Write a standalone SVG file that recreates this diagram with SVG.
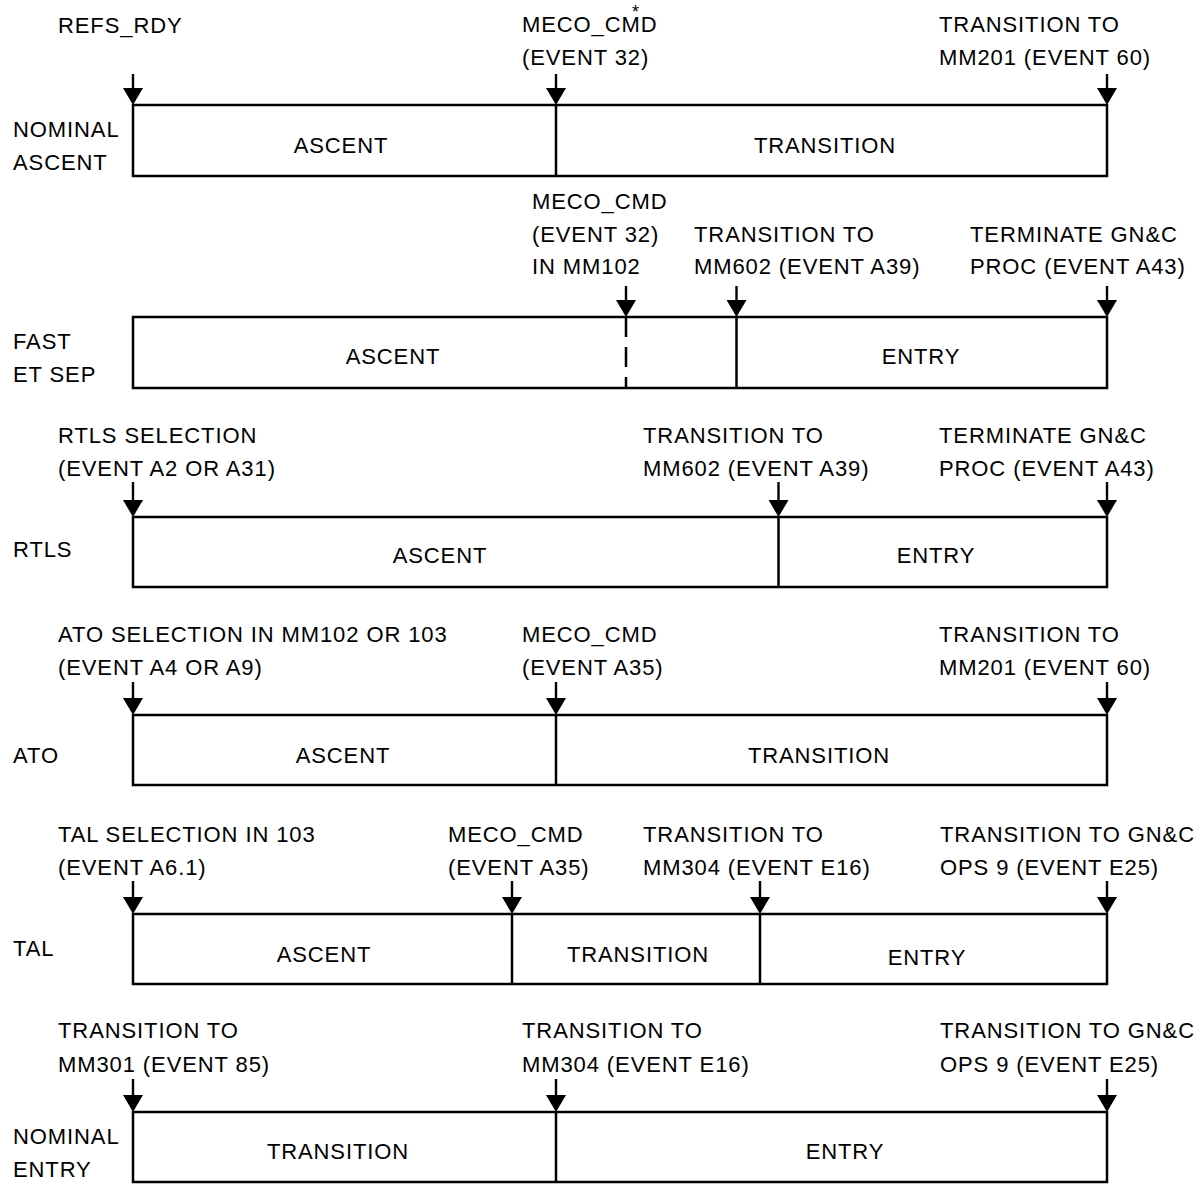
<svg xmlns="http://www.w3.org/2000/svg" width="1202" height="1184" viewBox="0 0 1202 1184">
<style>
text{font-family:"Liberation Sans",Arial,sans-serif;font-size:22px;letter-spacing:0.9px;fill:#000}
.mid{text-anchor:middle}
.box{fill:#fff;stroke:#000;stroke-width:2.5}
.div{stroke:#000;stroke-width:2.5}
.dash{stroke:#000;stroke-width:2.5;stroke-dasharray:20 10}
.arr{stroke:#000;stroke-width:2.4;marker-end:url(#ah)}
</style>
<defs>
<marker id="ah" markerUnits="userSpaceOnUse" viewBox="0 0 17 20" markerWidth="17" markerHeight="20" refX="12" refY="10" orient="auto">
<path d="M0,0 L17,10 L0,20 Z" fill="#000"/>
</marker>
</defs>
<rect width="1202" height="1184" fill="#fff"/>

<g id="row-nominal-ascent">
<rect class="box" x="133" y="105" width="974" height="71"/>
<line class="div" x1="556" y1="105" x2="556" y2="176"/>
<text x="13" y="137">NOMINAL</text>
<text x="13" y="169.5">ASCENT</text>
<text class="mid" x="341" y="153">ASCENT</text>
<text class="mid" x="825" y="153">TRANSITION</text>
<text x="58" y="33">REFS_RDY</text>
<text x="522" y="32">MECO_CMD<tspan x="632" y="18" style="font-size:18px">*</tspan></text>
<text x="522" y="65">(EVENT 32)</text>
<text x="939" y="32">TRANSITION TO</text>
<text x="939" y="65">MM201 (EVENT 60)</text>
</g>

<g id="row-fast-et-sep">
<rect class="box" x="133" y="317" width="974" height="71"/>
<line class="dash" x1="626" y1="317" x2="626" y2="388"/>
<line class="div" x1="736.5" y1="317" x2="736.5" y2="388"/>
<text x="13" y="349">FAST</text>
<text x="13" y="381.5">ET SEP</text>
<text class="mid" x="393" y="364">ASCENT</text>
<text class="mid" x="921" y="364">ENTRY</text>
<text x="532" y="209">MECO_CMD</text>
<text x="532" y="241.5">(EVENT 32)</text>
<text x="532" y="274">IN MM102</text>
<text x="694" y="241.5">TRANSITION TO</text>
<text x="694" y="274">MM602 (EVENT A39)</text>
<text x="970" y="241.5">TERMINATE GN&amp;C</text>
<text x="970" y="274">PROC (EVENT A43)</text>
</g>

<g id="row-rtls">
<rect class="box" x="133" y="517" width="974" height="70"/>
<line class="div" x1="778.5" y1="517" x2="778.5" y2="587"/>
<text x="13" y="557">RTLS</text>
<text class="mid" x="440" y="563">ASCENT</text>
<text class="mid" x="936" y="563">ENTRY</text>
<text x="58" y="443">RTLS SELECTION</text>
<text x="58" y="475.5">(EVENT A2 OR A31)</text>
<text x="643" y="443">TRANSITION TO</text>
<text x="643" y="475.5">MM602 (EVENT A39)</text>
<text x="939" y="443">TERMINATE GN&amp;C</text>
<text x="939" y="475.5">PROC (EVENT A43)</text>
</g>

<g id="row-ato">
<rect class="box" x="133" y="715" width="974" height="70"/>
<line class="div" x1="556" y1="715" x2="556" y2="785"/>
<text x="13" y="763">ATO</text>
<text class="mid" x="343" y="763">ASCENT</text>
<text class="mid" x="819" y="763">TRANSITION</text>
<text x="58" y="642">ATO SELECTION IN MM102 OR 103</text>
<text x="58" y="675">(EVENT A4 OR A9)</text>
<text x="522" y="642">MECO_CMD</text>
<text x="522" y="675">(EVENT A35)</text>
<text x="939" y="642">TRANSITION TO</text>
<text x="939" y="675">MM201 (EVENT 60)</text>
</g>

<g id="row-tal">
<rect class="box" x="133" y="914" width="974" height="70"/>
<line class="div" x1="512" y1="914" x2="512" y2="984"/>
<line class="div" x1="760" y1="914" x2="760" y2="984"/>
<text x="13" y="956">TAL</text>
<text class="mid" x="324" y="962">ASCENT</text>
<text class="mid" x="638" y="962">TRANSITION</text>
<text class="mid" x="927" y="965">ENTRY</text>
<text x="58" y="842">TAL SELECTION IN 103</text>
<text x="58" y="875">(EVENT A6.1)</text>
<text x="448" y="842">MECO_CMD</text>
<text x="448" y="875">(EVENT A35)</text>
<text x="643" y="842">TRANSITION TO</text>
<text x="643" y="875">MM304 (EVENT E16)</text>
<text x="940" y="842">TRANSITION TO GN&amp;C</text>
<text x="940" y="875">OPS 9 (EVENT E25)</text>
</g>

<g id="row-nominal-entry">
<rect class="box" x="133" y="1112" width="974" height="70"/>
<line class="div" x1="556" y1="1112" x2="556" y2="1182"/>
<text x="13" y="1144">NOMINAL</text>
<text x="13" y="1177">ENTRY</text>
<text class="mid" x="338" y="1159">TRANSITION</text>
<text class="mid" x="845" y="1159">ENTRY</text>
<text x="58" y="1038">TRANSITION TO</text>
<text x="58" y="1071.5">MM301 (EVENT 85)</text>
<text x="522" y="1038">TRANSITION TO</text>
<text x="522" y="1071.5">MM304 (EVENT E16)</text>
<text x="940" y="1038">TRANSITION TO GN&amp;C</text>
<text x="940" y="1071.5">OPS 9 (EVENT E25)</text>
</g>

<g id="connectors">
<line class="arr" x1="133" y1="74" x2="133" y2="100"/>
<line class="arr" x1="556" y1="74" x2="556" y2="100"/>
<line class="arr" x1="1107" y1="74" x2="1107" y2="100"/>

<line class="arr" x1="626" y1="286" x2="626" y2="312"/>
<line class="arr" x1="736.5" y1="286" x2="736.5" y2="312"/>
<line class="arr" x1="1107" y1="286" x2="1107" y2="312"/>

<line class="arr" x1="133" y1="482" x2="133" y2="512"/>
<line class="arr" x1="778.5" y1="482" x2="778.5" y2="512"/>
<line class="arr" x1="1107" y1="482" x2="1107" y2="512"/>

<line class="arr" x1="133" y1="682" x2="133" y2="710"/>
<line class="arr" x1="556" y1="682" x2="556" y2="710"/>
<line class="arr" x1="1107" y1="682" x2="1107" y2="710"/>

<line class="arr" x1="133" y1="881" x2="133" y2="909"/>
<line class="arr" x1="512" y1="881" x2="512" y2="909"/>
<line class="arr" x1="760" y1="881" x2="760" y2="909"/>
<line class="arr" x1="1107" y1="881" x2="1107" y2="909"/>

<line class="arr" x1="133" y1="1079" x2="133" y2="1107"/>
<line class="arr" x1="556" y1="1079" x2="556" y2="1107"/>
<line class="arr" x1="1107" y1="1079" x2="1107" y2="1107"/>
</g>
</svg>
